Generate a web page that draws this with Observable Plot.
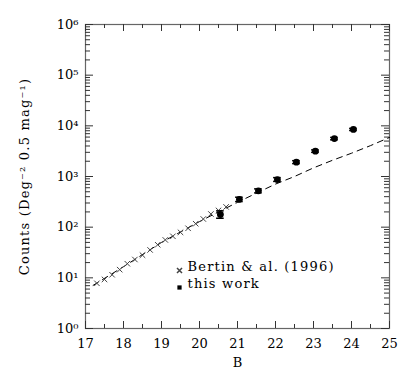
<!DOCTYPE html>
<html>
<head>
<meta charset="utf-8">
<script src="https://cdn.jsdelivr.net/npm/d3@7"></script>
<script src="https://cdn.jsdelivr.net/npm/@observablehq/plot@0.6"></script>
<style>
  body { margin: 0; background: #fff; }
  #chart svg { font-family: "DejaVu Serif", serif; }
</style>
</head>
<body>
<div id="chart"></div>
<script>
// Bertin & al. (1996) counts (crosses)
const bertinB = [17.3, 17.5, 17.7, 17.9, 18.1, 18.3, 18.5, 18.7, 18.9, 19.1, 19.3, 19.5, 19.7, 19.9, 20.1, 20.3, 20.5, 20.7];
const bertinN = [7.8, 9.3, 11.5, 14.5, 19, 23, 28, 35.5, 45, 56, 66, 79, 95, 117, 145, 182, 214, 251];

// this work (filled points with error bars)
const workB = [20.55, 21.05, 21.55, 22.05, 22.55, 23.05, 23.55, 24.05];
const workN = [178, 355, 522, 870, 1920, 3160, 5600, 8500];
const workLo = [150, 320, 475, 800, 1800, 3000, 5300, 8100];
const workHi = [210, 390, 570, 950, 2050, 3350, 5900, 8900];

// dashed model curve
const modelB = [17.2, 18, 19, 20, 20.5, 21, 21.5, 22, 22.5, 23, 23.5, 24, 24.5, 25];
const modelN = [7.1, 16.6, 50, 129, 200, 309, 470, 708, 1000, 1480, 2090, 2880, 4070, 5900];

// axis ticks
const xMajor = [17, 18, 19, 20, 21, 22, 23, 24, 25];
const xMinor = [17.5, 18.5, 19.5, 20.5, 21.5, 22.5, 23.5, 24.5];
const yMajor = [1, 10, 100, 1000, 10000, 100000, 1000000];
const yLabels = ["10⁰", "10¹", "10²", "10³", "10⁴", "10⁵", "10⁶"];
const yMinor = [];
for (const d of yMajor.slice(0, -1)) for (const m of [2, 3, 4, 5, 6, 7, 8, 9]) yMinor.push(d * m);

const legendLabels = ["Bertin & al. (1996)", "this work"];
const xLabel = "B";
const yLabel = "Counts (Deg⁻² 0.5 mag⁻¹)";

const bertin = bertinB.map((b, i) => ({B: b, N: bertinN[i]}));
const work = workB.map((b, i) => ({B: b, N: workN[i], lo: workLo[i], hi: workHi[i]}));
const model = modelB.map((b, i) => ({B: b, N: modelN[i]}));

const W = 409, H = 376, mL = 85, mR = 20, mT = 24, mB = 48;
const iw = W - mL - mR, ih = H - mT - mB;
const tickCol = "#333";

const chart = Plot.plot({
  width: W, height: H,
  marginLeft: mL, marginRight: mR, marginTop: mT, marginBottom: mB,
  style: {fontFamily: "DejaVu Serif, serif", fontSize: "13px", color: "#000", background: "#fff"},
  x: {domain: [17, 25]},
  y: {type: "log", domain: [1, 1e6]},
  marks: [
    Plot.frame({stroke: "#666", strokeWidth: 1.2}),
    // inward ticks, bottom & top
    Plot.ruleX(xMajor, {x: d => d, insetTop: ih - 7, stroke: tickCol}),
    Plot.ruleX(xMajor, {x: d => d, insetBottom: ih - 7, stroke: tickCol}),
    Plot.ruleX(xMinor, {x: d => d, insetTop: ih - 4, stroke: tickCol}),
    Plot.ruleX(xMinor, {x: d => d, insetBottom: ih - 4, stroke: tickCol}),
    // inward ticks, left & right
    Plot.ruleY(yMajor, {y: d => d, insetRight: iw - 8, stroke: tickCol}),
    Plot.ruleY(yMajor, {y: d => d, insetLeft: iw - 8, stroke: tickCol}),
    Plot.ruleY(yMinor, {y: d => d, insetRight: iw - 5, stroke: tickCol}),
    Plot.ruleY(yMinor, {y: d => d, insetLeft: iw - 5, stroke: tickCol}),
    Plot.axisX(xMajor, {anchor: "bottom", tickSize: 0, tickPadding: 10, fontSize: 13,
      label: xLabel, labelAnchor: "center", labelOffset: 38, labelArrow: "none"}),
    Plot.axisY(yMajor, {anchor: "left", tickSize: 0, tickPadding: 7, fontSize: 13,
      tickFormat: d => yLabels[yMajor.indexOf(d)],
      label: null}),
    Plot.text([yLabel], {frameAnchor: "left", dx: -61, rotate: -90, text: d => d, fontSize: 13,
      textAnchor: "middle"}),
    // model curve
    Plot.line(model, {x: "B", y: "N", stroke: "#000", strokeWidth: 1, strokeDasharray: "6,5"}),
    // Bertin crosses
    Plot.dot(bertin, {x: "B", y: "N", symbol: "times", r: 2.6, stroke: "#444", strokeWidth: 1}),
    // this work error bars and points
    Plot.ruleX(work, {x: "B", y1: "lo", y2: "hi", stroke: "#000", strokeWidth: 1.5}),
    Plot.ruleY(work, {y: "lo", x1: d => d.B - 0.1, x2: d => d.B + 0.1, stroke: "#000", strokeWidth: 1.5}),
    Plot.ruleY(work, {y: "hi", x1: d => d.B - 0.1, x2: d => d.B + 0.1, stroke: "#000", strokeWidth: 1.5}),
    Plot.dot(work, {x: "B", y: "N", r: 3.4, fill: "#000"}),
    // legend
    Plot.dot([legendLabels[0]], {frameAnchor: "bottom-left", dx: 94, dy: -58, symbol: "times", r: 2.4, stroke: "#444"}),
    Plot.dot([legendLabels[1]], {frameAnchor: "bottom-left", dx: 94, dy: -41, symbol: "square", r: 2.4, fill: "#000"}),
    Plot.text([legendLabels[0]], {frameAnchor: "bottom-left", dx: 102, dy: -58, text: d => d, textAnchor: "start", fontSize: 13}),
    Plot.text([legendLabels[1]], {frameAnchor: "bottom-left", dx: 102, dy: -41, text: d => d, textAnchor: "start", fontSize: 13})
  ]
});
// wider letter spacing, as in the reference's rendering
d3.select(chart).selectAll("text").each(function() {
  const t = this.textContent;
  if (t === yLabel || legendLabels.includes(t)) this.style.letterSpacing = "1.2px";
});
document.getElementById("chart").appendChild(chart);
</script>
</body>
</html>
